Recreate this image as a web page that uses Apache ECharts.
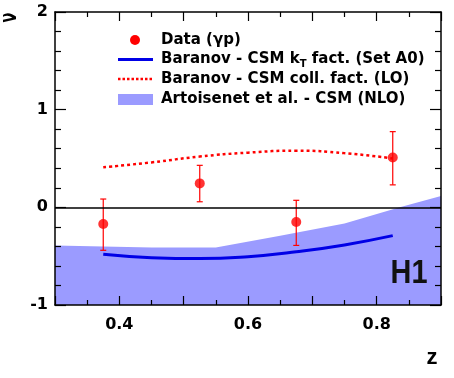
<!DOCTYPE html>
<html><head><meta charset="utf-8">
<script src="https://cdn.jsdelivr.net/npm/echarts@6/dist/echarts.min.js"></script>
<style>html,body{margin:0;padding:0;background:#fff}#c{width:454px;height:378px}</style>
</head><body><div id="c"></div>
<script>
// Data (gamma p)
const dataZ = [0.375, 0.525, 0.675, 0.825];
const dataNu = [-0.17, 0.245, -0.15, 0.51];
const dataHi = [0.085, 0.43, 0.072, 0.775];
const dataLo = [-0.44, 0.057, -0.39, 0.23];
// Baranov kT fact
const ktZ = [0.375, 0.45, 0.525, 0.6, 0.675, 0.75, 0.825];
const ktNu = [-0.48, -0.515, -0.525, -0.505, -0.455, -0.385, -0.29];
// Baranov coll. fact. (LO)
const collZ = [0.375, 0.45, 0.525, 0.6, 0.675, 0.75, 0.825];
const collNu = [0.41, 0.46, 0.52, 0.56, 0.58, 0.555, 0.50];
// Artoisenet NLO band upper edge
const bandZ = [0.3, 0.375, 0.45, 0.55, 0.65, 0.75, 0.836, 0.9];
const bandNu = [-0.39, -0.40, -0.41, -0.41, -0.29, -0.165, 0.0, 0.115];
const xTickLabels = ['0.4', '0.6', '0.8'];
const yTickLabels = ['-1', '0', '1', '2'];
const legendNames = ['Data (γp)', 'Baranov - CSM k{sub|T} fact. (Set A0)', 'Baranov - CSM coll. fact. (LO)', 'Artoisenet et al. - CSM (NLO)'];

const FONT = '"Liberation Sans", Arial, sans-serif';
const WIDE = '"DejaVu Sans", sans-serif';
const zip = (a, b) => a.map((v, i) => [v, b[i]]);
const chart = echarts.init(document.getElementById('c'));

const axisCommon = {
  axisLine: { show: true, onZero: false, lineStyle: { color: '#000', width: 1.5 } },
  splitLine: { show: false },
  z: 5
};
const xBase = Object.assign({}, axisCommon, {
  type: 'value', min: 0.3, max: 0.9, interval: 0.1,
  axisTick: { inside: true, length: 9, lineStyle: { color: '#000', width: 1.2 } },
  minorTick: { show: true, splitNumber: 2, length: 5, lineStyle: { color: '#000', width: 1.2 } }
});
const yBase = Object.assign({}, axisCommon, {
  type: 'value', min: -1, max: 2, interval: 1,
  axisTick: { inside: true, length: 11, lineStyle: { color: '#000', width: 1.2 } },
  minorTick: { show: true, splitNumber: 5, length: 6, lineStyle: { color: '#000', width: 1.2 } }
});

chart.setOption({
  animation: false,
  grid: { left: 55, right: 13, top: 12, bottom: 73 },
  xAxis: [
    Object.assign({}, xBase, { position: 'bottom',
      axisLabel: { show: true, margin: 12, color: '#000', fontFamily: WIDE, fontWeight: 'bold', fontSize: 16,
        formatter: v => { const s = v.toFixed(1); return xTickLabels.includes(s) ? s : ''; } } }),
    Object.assign({}, xBase, { position: 'top', axisLabel: { show: false } })
  ],
  yAxis: [
    Object.assign({}, yBase, { position: 'left',
      axisLabel: { show: true, margin: 7, color: '#000', fontFamily: WIDE, fontWeight: 'bold', fontSize: 16,
        formatter: v => { const s = String(Math.round(v)); return yTickLabels.includes(s) ? s : ''; } } }),
    Object.assign({}, yBase, { position: 'right', axisLabel: { show: false } })
  ],
  series: [
    {
      name: legendNames[3], type: 'line', data: zip(bandZ, bandNu), symbol: 'none',
      lineStyle: { width: 0 }, areaStyle: { color: '#9b9bff', opacity: 1, origin: 'start' }, z: 1,
      markLine: { silent: true, symbol: 'none', label: { show: false },
        lineStyle: { color: '#000', width: 1.5, type: 'solid' }, data: [{ yAxis: 0 }] }
    },
    {
      name: legendNames[1], type: 'line', data: zip(ktZ, ktNu), symbol: 'none', smooth: true,
      lineStyle: { color: '#0000e6', width: 3 }, z: 3
    },
    {
      name: legendNames[2], type: 'line', data: zip(collZ, collNu), symbol: 'none', smooth: true,
      lineStyle: { color: '#ff0000', width: 2.5, type: [3, 3] }, z: 3
    },
    {
      type: 'custom', z: 4,
      data: dataZ.map((z, i) => [z, dataLo[i], dataHi[i]]),
      renderItem: (params, api) => {
        const lo = api.coord([api.value(0), api.value(1)]);
        const hi = api.coord([api.value(0), api.value(2)]);
        const w = 3;
        const st = { stroke: '#ff0000', lineWidth: 1.2 };
        return { type: 'group', children: [
          { type: 'line', shape: { x1: lo[0], y1: lo[1], x2: hi[0], y2: hi[1] }, style: st },
          { type: 'line', shape: { x1: lo[0] - w, y1: lo[1], x2: lo[0] + w, y2: lo[1] }, style: st },
          { type: 'line', shape: { x1: hi[0] - w, y1: hi[1], x2: hi[0] + w, y2: hi[1] }, style: st }
        ] };
      }
    },
    {
      name: legendNames[0], type: 'scatter', data: zip(dataZ, dataNu), symbol: 'circle', symbolSize: 10,
      itemStyle: { color: '#ff0000' }, z: 6
    }
  ],
  graphic: [
    // legend
    { type: 'circle', shape: { cx: 135, cy: 40, r: 5 }, style: { fill: '#ff0000' }, z: 10 },
    { type: 'line', shape: { x1: 118, y1: 59.5, x2: 153, y2: 59.5 }, style: { stroke: '#0000e6', lineWidth: 3 }, z: 10 },
    { type: 'line', shape: { x1: 118, y1: 79, x2: 153, y2: 79 }, style: { stroke: '#ff0000', lineWidth: 2.5, lineDash: [2.5, 2] }, z: 10 },
    { type: 'rect', shape: { x: 118, y: 94, width: 35, height: 11 }, style: { fill: '#9b9bff' }, z: 10 },
    ...legendNames.map((t, i) => ({
      type: 'text', x: 161, y: [40, 59.5, 79, 99][i], z: 10,
      style: { text: t, fill: '#000', font: 'bold 15px ' + WIDE, verticalAlign: 'middle',
        rich: { sub: { font: 'bold 10px ' + WIDE, fill: '#000', padding: [9, 0, 0, 0] } } }
    })),
    // axis titles
    { type: 'text', x: 10.5, y: 17.5, rotation: Math.PI / 2, scaleX: 0.9, scaleY: 1.4, z: 10,
      style: { text: 'ν', fill: '#000', font: 'bold 16px ' + WIDE, align: 'center', verticalAlign: 'middle' } },
    { type: 'text', x: 432, y: 358, z: 10,
      style: { text: 'z', fill: '#000', font: 'bold 22px ' + FONT, align: 'center', verticalAlign: 'middle' } },
    { type: 'text', x: 409, y: 274, scaleX: 0.85, z: 10,
      style: { text: 'H1', fill: '#111', font: 'bold 34px ' + FONT, align: 'center', verticalAlign: 'middle' } }
  ]
});
</script></body></html>
